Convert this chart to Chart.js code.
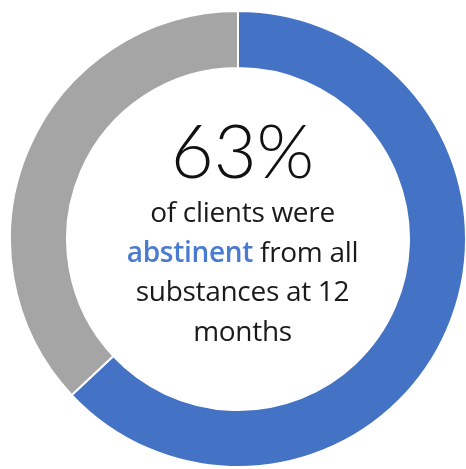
<!DOCTYPE html>
<html>
<head>
<meta charset="utf-8">
<script src="https://cdn.jsdelivr.net/npm/chart.js@4"></script>
<style>
  html, body { margin: 0; padding: 0; background: #fff; overflow: hidden; }
  #wrap { position: relative; width: 466px; height: 469px; }
  #ring { position: absolute; left: 9px; top: 10px; }
  #center {
    position: absolute; left: 0; top: 0; width: 485px; text-align: center;
    pointer-events: none;
  }
  #big {
    position: absolute; left: 0; right: 0; top: 105px;
    font-family: "Lato", sans-serif; font-weight: 300; font-size: 74px; line-height: 90px; color: #111;
  }
  #caption {
    position: absolute; left: 0; right: 0; top: 192px;
    font-family: "Open Sans", sans-serif; font-size: 28px; line-height: 39.5px; color: #1a1a1a;
    letter-spacing: -0.3px;
  }
  #caption .hl { color: #4a7bd0; font-weight: 600; }
</style>
</head>
<body>
<div id="wrap">
  <canvas id="ring" width="458" height="458"></canvas>
  <div id="center">
    <div id="big">63%</div>
    <div id="caption">of clients were<br><span class="hl">abstinent</span> from all<br>substances at 12<br>months</div>
  </div>
</div>
<script>
// share of clients abstinent at 12 months vs. the rest
const labels = ["Abstinent", "Not abstinent"];
const values = [63, 37];
const colors = ["#4472C4", "#A5A5A5"];

const ctx = document.getElementById("ring").getContext("2d");
new Chart(ctx, {
  type: "doughnut",
  data: {
    labels: labels,
    datasets: [{
      data: values,
      backgroundColor: colors,
      borderColor: "#ffffff",
      borderWidth: 2
    }]
  },
  options: {
    responsive: false,
    animation: false,
    cutout: "75%",
    rotation: 0,
    layout: { padding: 0 },
    plugins: {
      legend: { display: false },
      tooltip: { enabled: false }
    }
  }
});
</script>
</body>
</html>
